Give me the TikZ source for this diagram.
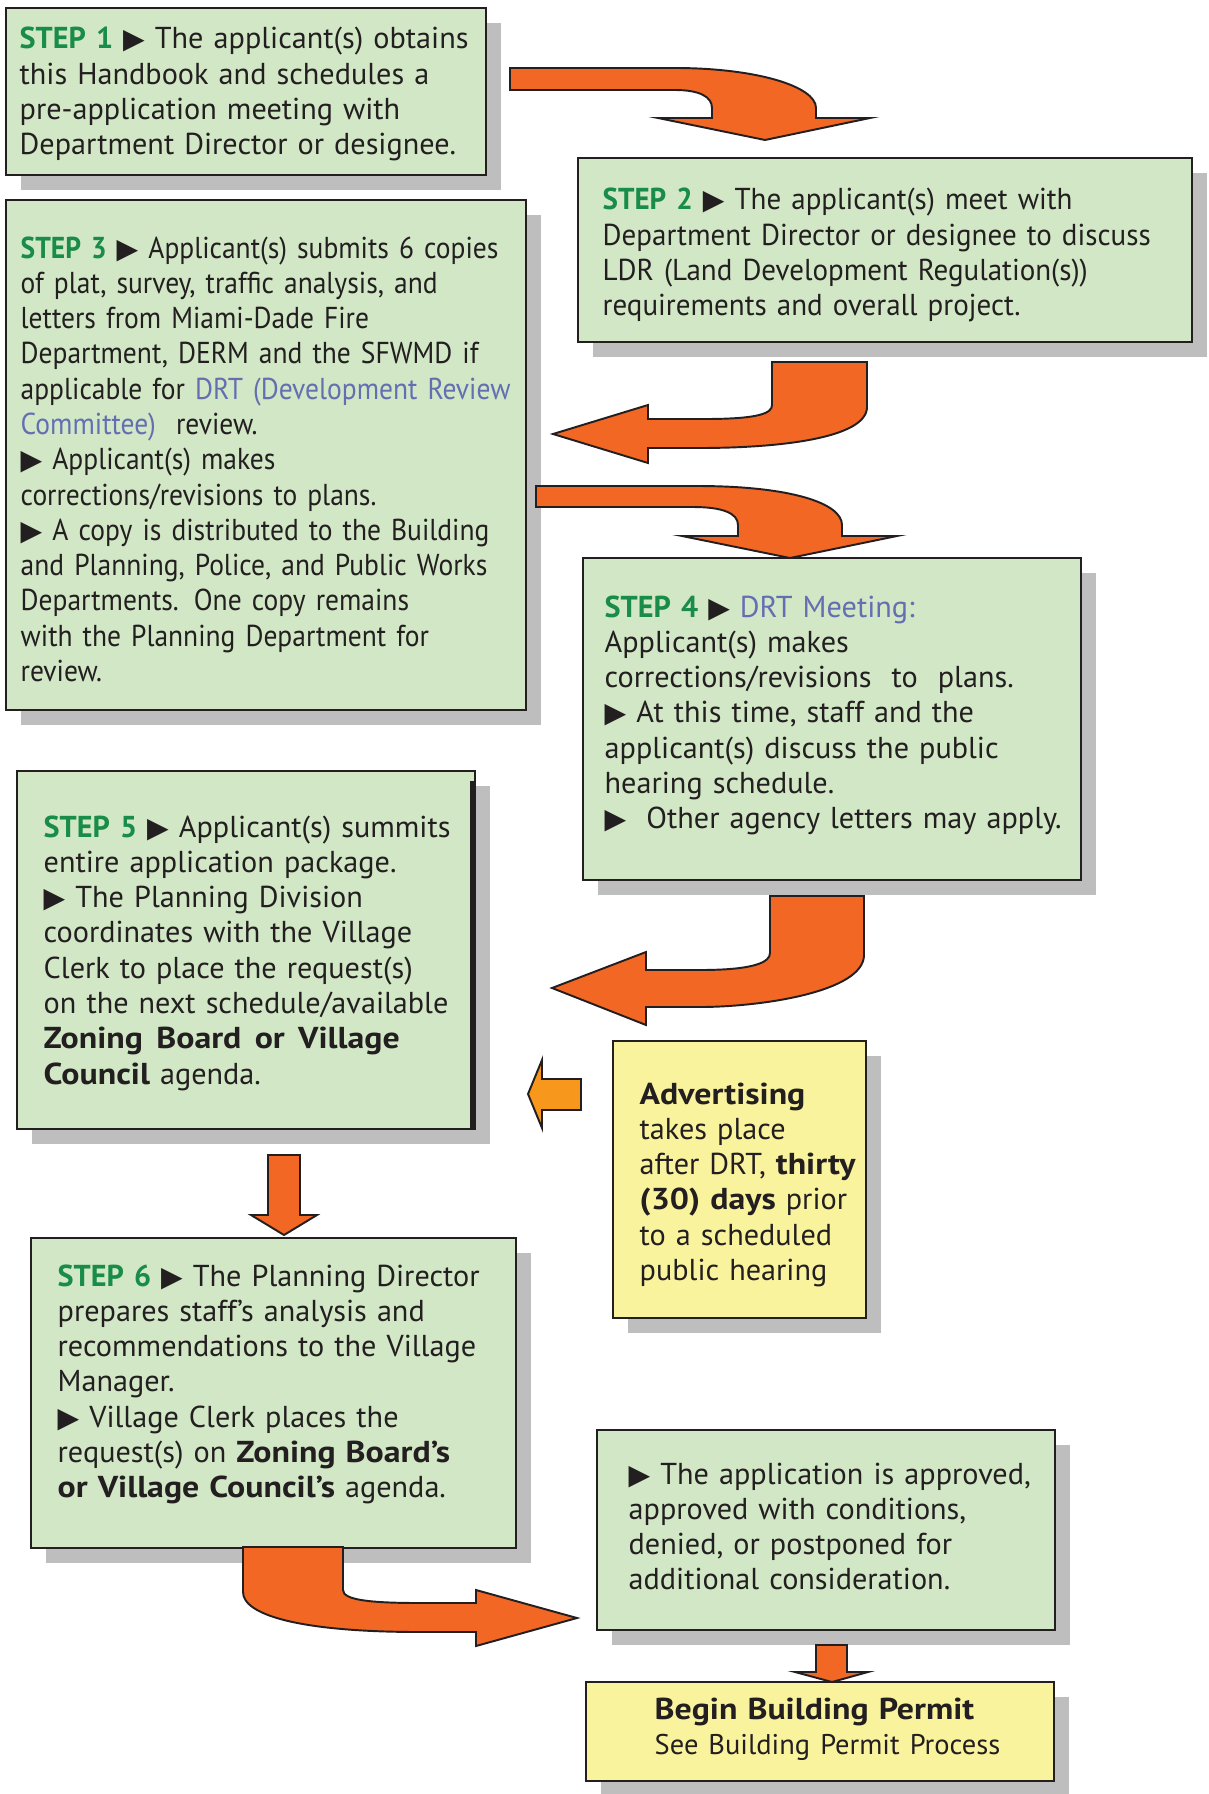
\documentclass[tikz,border=0pt]{standalone}
\usepackage{fontspec}
\setmainfont{PT Sans}
\newfontfamily\symfont{DejaVu Sans}
\newfontfamily\tightfont[FakeStretch=0.91]{PT Sans}
\newfontfamily\narrowfont[FakeStretch=0.96]{PT Sans}
\newfontfamily\wideboldfont[FakeStretch=1.12]{PT Sans}
\usetikzlibrary{shadows}

\definecolor{stepgreen}{RGB}{24,140,72}
\definecolor{drtblue}{RGB}{102,110,178}
\definecolor{boxgreen}{RGB}{209,231,197}
\definecolor{boxyellow}{RGB}{250,243,157}
\definecolor{arroworange}{RGB}{241,103,35}
\definecolor{lightorange}{RGB}{247,152,29}
\definecolor{shadowgray}{RGB}{190,190,190}
\definecolor{inkdark}{RGB}{35,31,32}

\newcommand{\bodyfont}{\fontsize{8.6}{10.04}\selectfont}
\newcommand{\tri}{{\symfont\fontsize{8}{8}\selectfont ▶}}
\newcommand{\steplabel}[1]{{\bfseries\color{stepgreen}STEP~#1}~\tri~}
\newcommand{\drt}[1]{{\color{drtblue}#1}}
\newcommand{\wb}[1]{{\wideboldfont\bfseries #1}}

\tikzset{
  stepbox/.style={draw=inkdark, line width=0.7pt, fill=boxgreen, anchor=north west,
    inner sep=0pt, outer sep=0pt,
    drop shadow={shadow xshift=1.5mm, shadow yshift=-1.5mm, fill=shadowgray, opacity=1}},
  notebox/.style={stepbox, fill=boxyellow},
  txt/.style={anchor=base west, inner sep=0pt, align=left, text=inkdark, font=\bodyfont},
  bigarrow/.style={fill=arroworange, draw=inkdark, line width=0.55pt, line join=miter},
  smallarrow/.style={bigarrow, fill=lightorange}
}

\begin{document}
\begin{tikzpicture}[x=0.1mm, y=-0.1mm]
  \useasboundingbox (0,0) rectangle (1209,1794);

  % boxes
  \node[stepbox, minimum width=48mm, minimum height=16.7mm] (s1) at (6,8) {};
  \node[stepbox, minimum width=61.4mm, minimum height=18.4mm] (s2) at (578,158) {};
  \node[stepbox, minimum width=52mm, minimum height=51mm] (s3) at (6,200) {};
  \node[stepbox, minimum width=49.8mm, minimum height=32.2mm] (s4) at (583,558) {};
  \node[stepbox, minimum width=45.8mm, minimum height=35.8mm] (s5) at (17,771) {};
  \draw[inkdark, line width=1.1pt] (472,781) -- (s5.south east -| 472,0);
  \node[stepbox, minimum width=48.5mm, minimum height=31mm] (s6) at (31,1238) {};
  \node[notebox, minimum width=25.3mm, minimum height=27.7mm] (adv) at (613,1041) {};
  \node[stepbox, minimum width=45.8mm, minimum height=20mm] (dec) at (597,1430) {};
  \node[notebox, minimum width=46.8mm, minimum height=9.9mm] (bp) at (586,1682) {};

  % texts
  \node[txt, text width=60mm] (t1) at (19,49) {\steplabel{1}The applicant(s) obtains\\
    this Handbook and schedules a\\ pre-application meeting with\\
    Department Director or designee.};
  \node[txt, text width=70mm, font=\bodyfont\narrowfont] (t2) at (602,210) {\steplabel{2}The applicant(s) meet with\\
    Department Director or designee to discuss\\ LDR (Land Development Regulation(s))\\
    requirements and overall project.};
  \node[txt, text width=60mm, font=\bodyfont\tightfont] (t3) at (20,258) {\steplabel{3}Applicant(s) submits 6 copies\\
    of plat, survey, traffic analysis, and\\ letters from Miami-Dade Fire\\
    Department, DERM and the SFWMD if\\ applicable for \drt{DRT (Development Review}\\
    \drt{Committee)}\ \ review.\\ \tri~Applicant(s) makes\\ corrections/revisions to plans.\\
    \tri~A copy is distributed to the Building\\ and Planning, Police, and Public Works\\
    Departments. One copy remains\\ with the Planning Department for\\ review.};
  \node[txt, text width=60mm] (t4) at (604,617) {\steplabel{4}\drt{DRT Meeting:}\\
    Applicant(s) makes\\ corrections/revisions\ \ to\ \ plans.\\
    \tri~At this time, staff and the\\ applicant(s) discuss the public\\
    hearing schedule.\\ \tri~\ Other agency letters may apply.};
  \node[txt, text width=60mm] (t5) at (43,837) {\steplabel{5}Applicant(s) summits\\
    entire application package.\\ \tri~The Planning Division\\
    coordinates with the Village\\ Clerk to place the request(s)\\
    on the next schedule/available\\
    \makebox[35.6mm][l]{\wb{Zoning\hfill Board\hfill or\hfill Village}}\\
    \wb{Council} agenda.};
  \node[txt, text width=60mm] (t6) at (57,1286) {\steplabel{6}The Planning Director\\
    prepares staff’s analysis and\\ recommendations to the Village\\ Manager.\\
    \tri~Village Clerk places the\\ request(s) on \wb{Zoning Board’s}\\
    \wb{or Village Council’s} agenda.};
  \node[txt, text width=40mm] (ta) at (639,1104) {\wb{Advertising}\\ takes place\\
    after DRT, \wb{thirty}\\ \wb{(30) days} prior\\ to a scheduled\\ public hearing};
  \node[txt, text width=60mm] (td) at (628,1484) {\tri~The application is approved,\\
    approved with conditions,\\ denied, or postponed for\\ additional consideration.};
  \node[txt, text width=60mm] (tb) at (654,1719) {\wb{Begin Building Permit}\\
    {\fontsize{8.1}{10.04}\selectfont See Building Permit Process}};

  % arrows between the steps
  \draw[bigarrow] (510,68) -- (675,68) .. controls (755,68) and (816,86) .. (816,108)
    -- (816,118) -- (870,118) -- (765,140) -- (658,118) -- (712,118) -- (712,108)
    .. controls (712,97) and (700,90) .. (675,90) -- (510,90) -- cycle;
  \draw[bigarrow] (772,362) -- (867,362) -- (867,407) .. controls (867,438) and (780,448) .. (700,448)
    -- (648,448) -- (648,463) -- (553,434) -- (648,405) -- (648,419) -- (705,419)
    .. controls (760,419) and (772,413) .. (772,405) -- cycle;
  \draw[bigarrow] (536,486) -- (697,486) .. controls (790,486) and (842,503) .. (842,525)
    -- (842,536) -- (897,536) -- (790,558) -- (682,536) -- (738,536) -- (738,525)
    .. controls (738,513) and (722,507) .. (693,507) -- (536,507) -- cycle;
  \draw[bigarrow] (770,896) -- (864,896) -- (864,955) .. controls (864,992) and (760,1007) .. (700,1007)
    -- (646,1007) -- (646,1025) -- (552,988) -- (646,952) -- (646,970) -- (700,970)
    .. controls (755,970) and (770,962) .. (770,953) -- cycle;
  \draw[bigarrow] (268,1155) -- (300,1155) -- (300,1215) -- (317,1215) -- (284,1235)
    -- (251,1215) -- (268,1215) -- cycle;
  \draw[bigarrow] (243,1547) -- (343,1547) -- (343,1590) .. controls (343,1600) and (370,1603) .. (420,1603)
    -- (476,1603) -- (476,1590) -- (577,1618) -- (476,1646) -- (476,1632) -- (420,1632)
    .. controls (300,1632) and (243,1615) .. (243,1592) -- cycle;
  \draw[bigarrow] (816,1645) -- (847,1645) -- (847,1672) -- (868,1672) -- (832,1682)
    -- (795,1672) -- (816,1672) -- cycle;
  \draw[smallarrow] (581,1079) -- (581,1110) -- (542,1110) -- (542,1128) -- (528,1094)
    -- (542,1060) -- (542,1079) -- cycle;
\end{tikzpicture}
\end{document}
